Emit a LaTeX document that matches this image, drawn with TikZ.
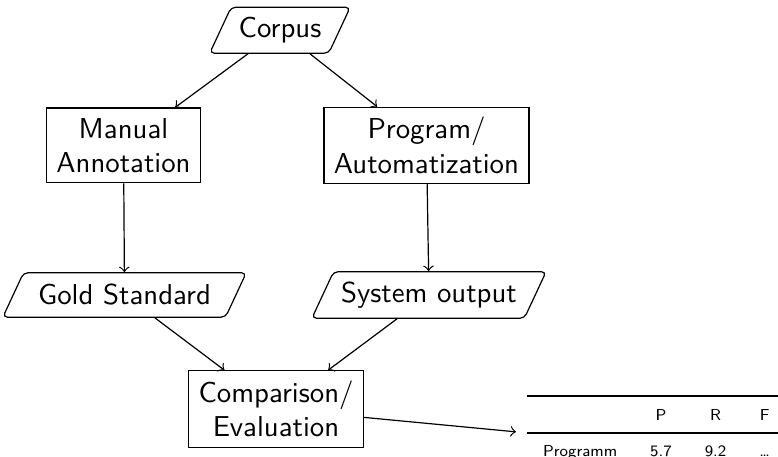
\documentclass[tikz,border=0pt]{standalone}
\usepackage{booktabs}
\usetikzlibrary{shapes.geometric}

\begin{document}
\begin{tikzpicture}[
    box/.style={draw, align=center, font=\sffamily\fontsize{9.6}{11.5}\selectfont},
    data/.style={draw, trapezium, trapezium left angle=65, trapezium right angle=115, rounded corners=1.5pt, minimum height=0.52cm, inner xsep=2.5pt, font=\sffamily\fontsize{9.6}{11.5}\selectfont}
]
    \useasboundingbox (0, 0) rectangle (9.115, 5.354);

    \node[data] (corpus) at (3.28, 5.0) {Corpus};
    \node[box] (manual) at (1.447, 3.65) {Manual\\Annotation};
    \node[box] (program) at (4.997, 3.65) {Program/\\Automatization};
    \node[data] (gold) at (1.459, 1.898) {Gold Standard};
    \node[data] (system) at (5.026, 1.898) {System output};
    \node[box] (compare) at (3.234, 0.562) {Comparison/\\Evaluation};
    \node[anchor=north west, inner sep=3.33pt, font=\sffamily\fontsize{5.3}{7}\selectfont] (results) at (6.045, 0.85) {%
        \setlength{\tabcolsep}{5.5pt}%
        \begin{tabular}{lccc}
            \toprule
             & P & R & F \\
            \midrule
            Programm & 5.7 & 9.2 & \dots \\[-0.6pt]
            \bottomrule
        \end{tabular}%
    };

    \draw[->] (corpus) -- (manual);
    \draw[->] (corpus) -- (program);
    \draw[->] (manual) -- (gold);
    \draw[->] (program) -- (system);
    \draw[->] (gold) -- (compare);
    \draw[->] (system) -- (compare);
    \draw[->] (compare) -- (results.west);
\end{tikzpicture}
\end{document}
